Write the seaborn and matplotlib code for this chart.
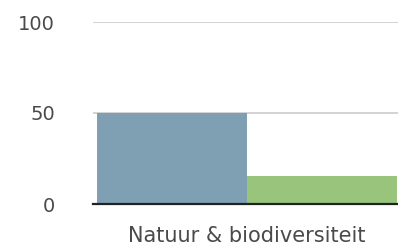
import pandas as pd
import seaborn as sns
import matplotlib.pyplot as plt

categories = ["Natuur & biodiversiteit"]
series = ["Reeks 1", "Reeks 2"]
values = [50, 15.5]
colors = ["#7f9fb3", "#98c47c"]
yticks = [0, 50, 100]

df = pd.DataFrame({"cat": categories * len(series), "series": series, "value": values})

sns.set_style("white")
plt.rcParams["font.family"] = ["DejaVu Sans"]

fig = plt.figure(figsize=(3.98, 2.48), dpi=100)
ax = fig.add_axes([93 / 398, 1 - 204 / 248, 305 / 398, 182 / 248])

sns.barplot(data=df, x="cat", y="value", hue="series", palette=colors,
            width=0.98, legend=False, ax=ax, zorder=2, linewidth=0, saturation=1)

ax.set_ylim(0, 100)
ax.set_xlim(-0.503, 0.4934)
ax.set_yticks(yticks)
ax.set_yticklabels([str(t) for t in yticks])
ax.set_xlabel("")
ax.set_ylabel("")

for t in yticks[1:]:
    ax.axhline(t, color="#c8c8c8", lw=1.1, zorder=1)

for s in ["top", "right", "left"]:
    ax.spines[s].set_visible(False)
ax.spines["bottom"].set_color("#222222")
ax.spines["bottom"].set_linewidth(1.6)
ax.spines["bottom"].set_zorder(3)

ax.tick_params(axis="y", length=0, pad=27.5, labelsize=14, labelcolor="#4a4a4a")
ax.tick_params(axis="x", length=0, pad=16, labelsize=15, labelcolor="#4a4a4a")

fig.savefig("out.png", dpi=100)
